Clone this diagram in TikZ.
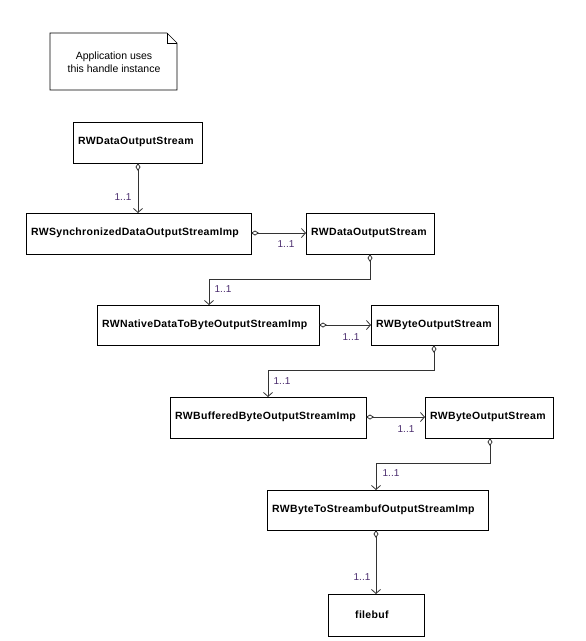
\documentclass[tikz,border=0pt]{standalone}
\usepackage{fontspec}
\setmainfont{Liberation Sans}
\newfontfamily\boxfont[LetterSpace=3]{Liberation Sans}
\usetikzlibrary{arrows.meta}
\definecolor{mult}{RGB}{75,45,110}
\tikzset{
  cls/.style={draw=black, line width=0.8pt, fill=white, inner sep=0pt},
  lbl/.style={font=\boxfont\fontsize{10.5}{12}\selectfont\bfseries, anchor=west, inner sep=0pt},
  assoc/.style={draw=black!80, line width=0.8pt, {Diamond[open,length=8pt,width=5pt]}-{Straight Barb[length=4pt,width=9pt]}},
  mul/.style={font=\fontsize{10}{11}\selectfont, text=mult, inner sep=0pt}
}
\begin{document}
\begin{tikzpicture}[x=1pt,y=-1pt]
\useasboundingbox (0,0) rectangle (586,641);
% note
\draw[line width=0.7pt] (50,33) -- (167,33) -- (177,43) -- (177,90) -- (50,90) -- cycle;
\draw[line width=0.7pt] (167,33) -- (167,43) -- (177,43);
\node[font=\fontsize{10.5}{12.5}\selectfont, align=center] (note) at (114,62) {Application uses\\this handle instance};
% boxes
\draw[cls] (73,122) rectangle (202,163); \node[lbl] (b1) at (78,142) {RWDataOutputStream};
\draw[cls] (26,213) rectangle (251,254); \node[lbl] (b2) at (31,233) {RWSynchronizedDataOutputStreamImp};
\draw[cls] (306,213) rectangle (434,254); \node[lbl] (b3) at (311,233) {RWDataOutputStream};
\draw[cls] (97,305) rectangle (319,345); \node[lbl] (b4) at (102,325) {RWNativeDataToByteOutputStreamImp};
\draw[cls] (371,305) rectangle (498,345); \node[lbl] (b5) at (376,325) {RWByteOutputStream};
\draw[cls] (170,397) rectangle (366,438); \node[lbl] (b6) at (175,417) {RWBufferedByteOutputStreamImp};
\draw[cls] (425,397) rectangle (553,438); \node[lbl] (b7) at (430,417) {RWByteOutputStream};
\draw[cls] (267,490) rectangle (488,530); \node[lbl] (b8) at (272,510) {RWByteToStreambufOutputStreamImp};
\draw[cls] (328,594) rectangle (424,636); \node[lbl] (b9) at (355,615) {filebuf};
% coordinates
\coordinate (s1) at (138,163); \coordinate (e1) at (138,213);
\coordinate (s2) at (251,233); \coordinate (e2) at (306,233);
\coordinate (s3) at (370,254); \coordinate (e3) at (209,305);
\coordinate (s4) at (319,325); \coordinate (e4) at (371,325);
\coordinate (s5) at (434,345); \coordinate (e5) at (268,397);
\coordinate (s6) at (366,417); \coordinate (e6) at (425,417);
\coordinate (s7) at (490,438); \coordinate (e7) at (376,490);
\coordinate (s8) at (376,530); \coordinate (e8) at (376,594);
% connectors
\draw[assoc] (s1) -- (e1);
\draw[assoc] (s2) -- (e2);
\draw[assoc] (s3) -- (370,279) -- (209,279) -- (e3);
\draw[assoc] (s4) -- (e4);
\draw[assoc] (s5) -- (434,370) -- (268,370) -- (e5);
\draw[assoc] (s6) -- (e6);
\draw[assoc] (s7) -- (490,463) -- (376,463) -- (e7);
\draw[assoc] (s8) -- (e8);
% multiplicities
\node[mul] (m1) at (123,197) {1..1};
\node[mul] (m2) at (286,244) {1..1};
\node[mul] (m3) at (223,289) {1..1};
\node[mul] (m4) at (351,337) {1..1};
\node[mul] (m5) at (282,381) {1..1};
\node[mul] (m6) at (406,429) {1..1};
\node[mul] (m7) at (391,473) {1..1};
\node[mul] (m8) at (362,577) {1..1};
\end{tikzpicture}
\end{document}
